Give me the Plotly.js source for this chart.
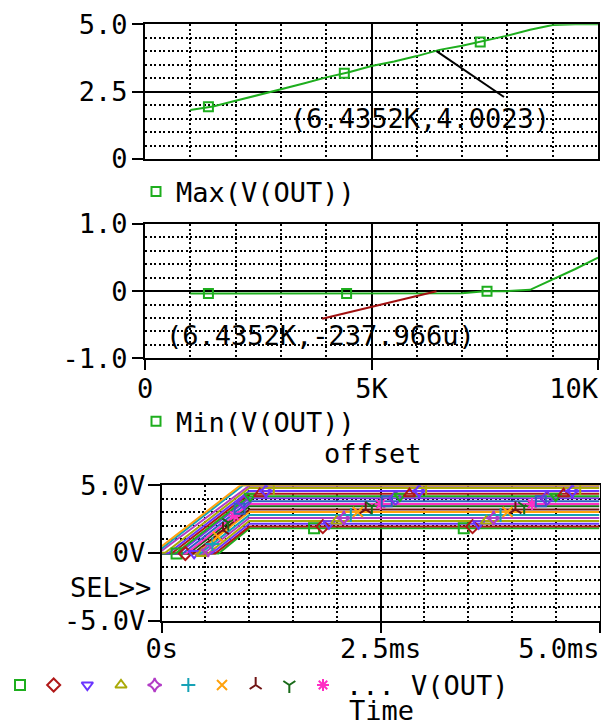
<!DOCTYPE html>
<html><head><meta charset="utf-8">
<script src="https://cdn.plot.ly/plotly-3.0.1.min.js"></script>
<style>html,body{margin:0;padding:0;background:#fff;} #chart{width:601px;height:724px;}</style>
</head><body><div id="chart"></div>
<script>
// ---------- data ----------
const offsets = [1000,1500,2000,2500,3000,3500,4000,4500,5000,5500,6000,6500,7000,7500,8000,8500,9000,9500,10000];
const maxOut  = [1.82,1.95,2.16,2.37,2.58,2.80,3.03,3.22,3.45,3.62,3.82,4.05,4.20,4.38,4.58,4.80,4.97,5.00,5.00];
const minOut  = [-0.035,-0.035,-0.035,-0.035,-0.035,-0.035,-0.035,-0.035,-0.035,-0.035,-0.035,-0.035,-0.03,0,0,0.02,0.17,0.33,0.50];
const maxMarkOffset = [1400,4400,7400];
const maxMarkVal    = [1.94,3.18,4.34];
const minMarkOffset = [1400,4450,7550];
const minMarkVal    = [-0.035,-0.035,0];
const cursorOffset = 6435.2;
const cursorMax = 4.0023;
const cursorMin = -237.966e-6;
const cursorMaxText = '(6.4352K,4.0023)';
const cursorMinText = '(6.4352K,-237.966u)';
// transient traces V(OUT) (time in ms), one per offset
const rampStart = [0.65,0.61,0.57,0.53,0.48,0.44,0.39,0.36,0.31,0.28,0.24,0.19,0.16,0.12,0.08,0.04,0,0,0];
const rampEnd   = [1,1,1,1,1,1,1,1,1,1,1,1,1,1,1,1,1,0.93,0.90];
const simEnd = 5.0;
const markT1 = [0.17,0.27,0.37,0.46,0.53,0.58,0.64,0.70,0.76,0.83,0.89,0.94,1.01,1.12,1.19,1.28];
const markT2 = [1.74,1.84,1.91,2.00,2.08,2.16,2.24,2.33,2.40,2.50,2.57,2.67,2.72,2.83,2.94,3.02];
const markT3 = [3.45,3.55,3.62,3.71,3.79,3.87,3.95,4.04,4.14,4.23,4.33,4.40,4.50,4.59,4.69,4.78];
// tick labels (default label -> shown label)
const yTopLabels = {'0': '0', '2.5': '2.5', '5': '5.0'};
const yMidLabels = {'\u22121': '-1.0', '-1': '-1.0', '0': '0', '1': '1.0'};
const xOffLabels = {'0': '0', '5k': '5K', '10k': '10K\u00a0\u00a0\u00a0'};
const yBotLabels = {'\u22125': '-5.0V', '-5': '-5.0V', '0': '0V', '5': '5.0V'};
const xBotLabels = {'0': '0s', '2.5': '2.5ms', '5': '5.0ms\u00a0\u00a0\u00a0\u00a0\u00a0'};

// ---------- styles ----------
const FONT = 'DejaVu Sans Mono, monospace';
const FS = 27;
const colors = ['#1eae1e','#b01818','#6a34ff','#aaaa08','#b23cc6','#16a2b6','#ffa20c','#701414','#186a18','#ff2ec4','#2e62c2','#7a30e8'];
const symbols = ['square-open','diamond-open','triangle-down-open','triangle-up-open','star-diamond-open','cross-thin-open','x-thin-open','y-up-open','y-down-open','asterisk-open'];
const GREEN = colors[0];
const W = 601, H = 724;
const fx = p => p / W, fy = p => 1 - p / H;

function axisBase(extra, majorStep, minorStep) {
  return Object.assign({
    showline: true, linecolor: '#000', linewidth: 2, mirror: true,
    showgrid: true, gridcolor: '#000', gridwidth: 2, zeroline: false,
    ticks: 'outside', ticklen: 11, tickwidth: 2, tickcolor: '#000',
    tickmode: 'linear', tick0: 0, dtick: majorStep, fixedrange: true, ticklabeloverflow: 'allow',
    tickfont: {family: FONT, size: FS, color: '#000'},
    minor: {showgrid: true, gridcolor: '#000', gridwidth: 2, griddash: '2px,2.5px', ticks: '', tick0: 0, dtick: minorStep}
  }, extra);
}

const traces = [];
traces.push({x: offsets, y: maxOut, xaxis: 'x', yaxis: 'y', mode: 'lines', line: {color: GREEN, width: 2}, showlegend: false, hoverinfo: 'skip'});
traces.push({x: maxMarkOffset, y: maxMarkVal, xaxis: 'x', yaxis: 'y', mode: 'markers', name: 'Max(V(OUT))', legend: 'legend',
  marker: {symbol: 'square-open', size: 9, color: GREEN, line: {color: GREEN, width: 2}}, showlegend: true});
traces.push({x: offsets, y: minOut, xaxis: 'x2', yaxis: 'y2', mode: 'lines', line: {color: GREEN, width: 2}, showlegend: false, hoverinfo: 'skip'});
traces.push({x: minMarkOffset, y: minMarkVal, xaxis: 'x2', yaxis: 'y2', mode: 'markers', name: 'Min(V(OUT))', legend: 'legend2',
  marker: {symbol: 'square-open', size: 9, color: GREEN, line: {color: GREEN, width: 2}}, showlegend: true});

function traceXY(i) {
  return {x: [0, rampStart[i], rampEnd[i], simEnd], y: [minOut[i], minOut[i], maxOut[i], maxOut[i]]};
}
function valueAt(i, t) {
  const p = traceXY(i);
  for (let k = 0; k < p.x.length - 1; k++) {
    if (t >= p.x[k] && t <= p.x[k+1]) {
      const span = p.x[k+1] - p.x[k];
      return span === 0 ? p.y[k+1] : p.y[k] + (p.y[k+1] - p.y[k]) * (t - p.x[k]) / span;
    }
  }
  return p.y[p.y.length - 1];
}
for (let i = 0; i < offsets.length; i++) {
  const p = traceXY(i);
  traces.push({x: p.x, y: p.y, xaxis: 'x3', yaxis: 'y3', mode: 'lines', line: {color: colors[i % colors.length], width: 2}, showlegend: false, hoverinfo: 'skip'});
}
for (let i = 0; i < markT1.length; i++) {
  const ts = [markT1[i], markT2[i], markT3[i]];
  const c = colors[i % colors.length];
  traces.push({x: ts, y: ts.map(t => valueAt(i, t)), xaxis: 'x3', yaxis: 'y3', mode: 'markers', showlegend: false, hoverinfo: 'skip',
    marker: {symbol: symbols[i % symbols.length], size: 10, color: c, line: {color: c, width: 2}}});
}
// legend row of the transient plot (first ten symbols)
const legendSlots = symbols.map((s, k) => k);
traces.push({x: legendSlots, y: legendSlots.map(() => 0), xaxis: 'x4', yaxis: 'y4', mode: 'markers', showlegend: false, hoverinfo: 'skip', cliponaxis: false,
  marker: {symbol: symbols, size: 10, color: legendSlots.map(k => colors[k]), line: {color: legendSlots.map(k => colors[k]), width: 2}}});

const xTopDom = [fx(145), fx(598)];
const layout = {
  width: W, height: H, margin: {l: 0, r: 0, t: 0, b: 0},
  paper_bgcolor: '#fff', plot_bgcolor: '#fff',
  font: {family: FONT, size: FS, color: '#000'},
  showlegend: true,
  xaxis: axisBase({domain: xTopDom, range: [0, 10000], anchor: 'y', showticklabels: false, ticks: ''}, 5000, 1000),
  yaxis: axisBase({domain: [fy(159), fy(24.3)], range: [0, 5], anchor: 'x', labelalias: yTopLabels, ticklabelstandoff: -1}, 2.5, 0.5),
  xaxis2: axisBase({domain: xTopDom, range: [0, 10000], anchor: 'y2', tickformat: '~s', labelalias: xOffLabels, ticklen: 10, ticklabelstandoff: -5}, 5000, 1000),
  yaxis2: axisBase({domain: [fy(358.3), fy(224)], range: [-1, 1], anchor: 'x2', labelalias: yMidLabels, ticklabelstandoff: -1}, 1, 0.2),
  xaxis3: axisBase({domain: [fx(161.7), fx(599.5)], range: [0, 5], anchor: 'y3', labelalias: xBotLabels, ticklen: 10, ticklabelstandoff: -7}, 2.5, 0.5),
  yaxis3: axisBase({domain: [fy(620.7), fy(485.3)], range: [-5, 5], anchor: 'x3', labelalias: yBotLabels, ticklen: 12, ticklabelstandoff: -3}, 5, 1),
  xaxis4: {domain: [fx(20), fx(323)], range: [0, 9], anchor: 'y4', visible: false, fixedrange: true},
  yaxis4: {domain: [fy(695), fy(675)], range: [-1, 1], anchor: 'x4', visible: false, fixedrange: true},
  legend: {x: fx(136), xanchor: 'left', y: fy(192), yanchor: 'middle', bgcolor: 'rgba(0,0,0,0)', borderwidth: 0,
    font: {family: FONT, size: FS, color: '#000'}},
  legend2: {x: fx(136), xanchor: 'left', y: fy(421.7), yanchor: 'middle', bgcolor: 'rgba(0,0,0,0)', borderwidth: 0,
    font: {family: FONT, size: FS, color: '#000'}},
  shapes: [
    {type: 'line', xref: 'x', yref: 'y', x0: cursorOffset, y0: cursorMax, x1: 7925, y1: 2.30, line: {color: '#000', width: 2}},
    {type: 'line', xref: 'x2', yref: 'y2', x0: cursorOffset, y0: cursorMin, x1: 3910, y1: -0.41, line: {color: '#a01010', width: 2}}
  ],
  annotations: [
    {xref: 'x', yref: 'y', x: 6070, y: 1.51, text: cursorMaxText, showarrow: false, xanchor: 'center', yanchor: 'middle', font: {family: FONT, size: FS, color: '#000'}},
    {xref: 'x2', yref: 'y2', x: 3885, y: -0.655, text: cursorMinText, showarrow: false, xanchor: 'center', yanchor: 'middle', font: {family: FONT, size: FS, color: '#000'}},
    {xref: 'paper', yref: 'paper', x: fx(372.5), y: fy(453), text: 'offset', showarrow: false, xanchor: 'center', yanchor: 'middle', font: {family: FONT, size: FS, color: '#000'}},
    {xref: 'paper', yref: 'paper', x: fx(381), y: fy(710), text: 'Time', showarrow: false, xanchor: 'center', yanchor: 'middle', font: {family: FONT, size: FS, color: '#000'}},
    {xref: 'paper', yref: 'paper', x: fx(153), y: fy(587), text: 'SEL>>', showarrow: false, xanchor: 'right', yanchor: 'middle', font: {family: FONT, size: FS, color: '#000'}},
    {xref: 'paper', yref: 'paper', x: fx(344), y: fy(685), text: '... V(OUT)', showarrow: false, xanchor: 'left', yanchor: 'middle', font: {family: FONT, size: FS, color: '#000'}}
  ]
};
Plotly.newPlot('chart', traces, layout, {staticPlot: true, displayModeBar: false});
</script></body></html>
